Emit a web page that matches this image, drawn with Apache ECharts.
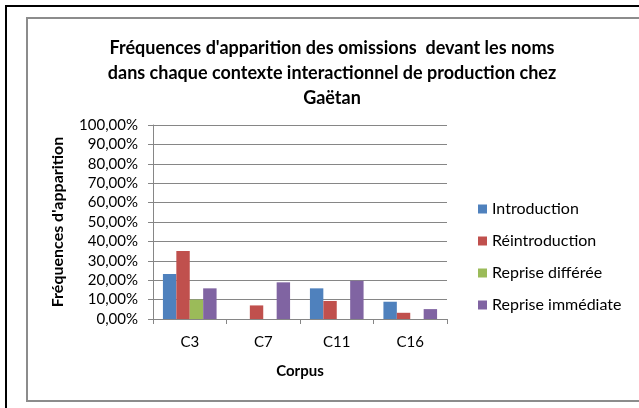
<!DOCTYPE html>
<html>
    <head>
        <meta charset="utf-8">
        <title>Fréquences d'apparition</title>
        <style>
            html, body { margin: 0; padding: 0; background: #fff; }
            #chart1 { width: 639px; height: 408px; }
        </style>
    </head>
    <body>
        <div id="chart1"></div>
    </body>
    <script src="https://cdn.jsdelivr.net/npm/echarts@6/dist/echarts.min.js"></script>
    <script>
        // données (en %)
        var corpus = ['C3', 'C7', 'C11', 'C16'];
        var introduction = [23.2, 0, 15.8, 8.9];
        var reintroduction = [35.0, 7.0, 9.3, 3.2];
        var repriseDifferee = [10.0, 0, 0, 0];
        var repriseImmediate = [15.8, 18.9, 19.7, 5.1];
        var yTicks = [0, 10, 20, 30, 40, 50, 60, 70, 80, 90, 100];

        var font = 'Lato, "Open Sans", sans-serif';
        var myChart1 = echarts.init(document.getElementById('chart1'));

        function barSerie(name, data, color) {
            return {
                name: name,
                type: 'bar',
                data: data,
                barGap: '0%',
                barCategoryGap: '27%',
                itemStyle: { color: color },
                emphasis: { disabled: true }
            };
        }

        myChart1.setOption({
            animation: false,
            textStyle: { fontFamily: font },
            title: {
                text: "Fréquences d'apparition des omissions  devant les noms\ndans chaque contexte interactionnel de production chez\nGaëtan",
                left: 327,
                top: 31,
                padding: 5,
                textAlign: 'center',
                textStyle: {
                    fontFamily: font,
                    fontSize: 18,
                    fontWeight: 'bold',
                    color: '#000',
                    lineHeight: 25
                }
            },
            graphic: [
                { type: 'rect', shape: { x: 6, y: 6, width: 700, height: 450 },
                  style: { fill: null, stroke: '#000', lineWidth: 2 } },
                { type: 'rect', shape: { x: 27, y: 18, width: 700, height: 383 },
                  style: { fill: null, stroke: '#8c8c8c', lineWidth: 2 } }
            ],
            legend: {
                orient: 'vertical',
                left: 473,
                top: 196,
                itemWidth: 9,
                itemHeight: 9,
                itemGap: 16,
                icon: 'rect',
                selectedMode: false,
                textStyle: { fontFamily: font, fontSize: 16, color: '#000' },
                data: ['Introduction', 'Réintroduction', 'Reprise différée', 'Reprise immédiate']
            },
            grid: { left: 153, right: 192, top: 125, bottom: 89 },
            xAxis: {
                type: 'category',
                data: corpus,
                name: 'Corpus',
                nameLocation: 'middle',
                nameGap: 45,
                nameTextStyle: { fontFamily: font, fontSize: 15, fontWeight: 'bold', color: '#000' },
                axisLine: { lineStyle: { color: '#868686', width: 1 } },
                axisTick: { show: true, length: 5, lineStyle: { color: '#868686' } },
                axisLabel: { fontFamily: font, fontSize: 15, color: '#000', margin: 16 }
            },
            yAxis: {
                type: 'value',
                min: yTicks[0],
                max: yTicks[yTicks.length - 1],
                interval: 10,
                name: "Fréquences d'apparition",
                nameLocation: 'middle',
                nameGap: 87,
                nameRotate: 90,
                nameTextStyle: { fontFamily: font, fontSize: 16, fontWeight: 'bold', color: '#000' },
                axisLine: { show: true, lineStyle: { color: '#868686', width: 1 } },
                axisTick: { show: true, length: 5, lineStyle: { color: '#868686' } },
                splitLine: { lineStyle: { color: '#868686', width: 1 } },
                axisLabel: {
                    fontFamily: font,
                    fontSize: 15,
                    color: '#000',
                    margin: 15,
                    formatter: function (v) { return v.toFixed(2).replace('.', ',') + '%'; }
                }
            },
            series: [
                barSerie('Introduction', introduction, '#4F81BD'),
                barSerie('Réintroduction', reintroduction, '#C0504D'),
                barSerie('Reprise différée', repriseDifferee, '#9BBB59'),
                barSerie('Reprise immédiate', repriseImmediate, '#8064A2')
            ]
        });
    </script>
</html>
